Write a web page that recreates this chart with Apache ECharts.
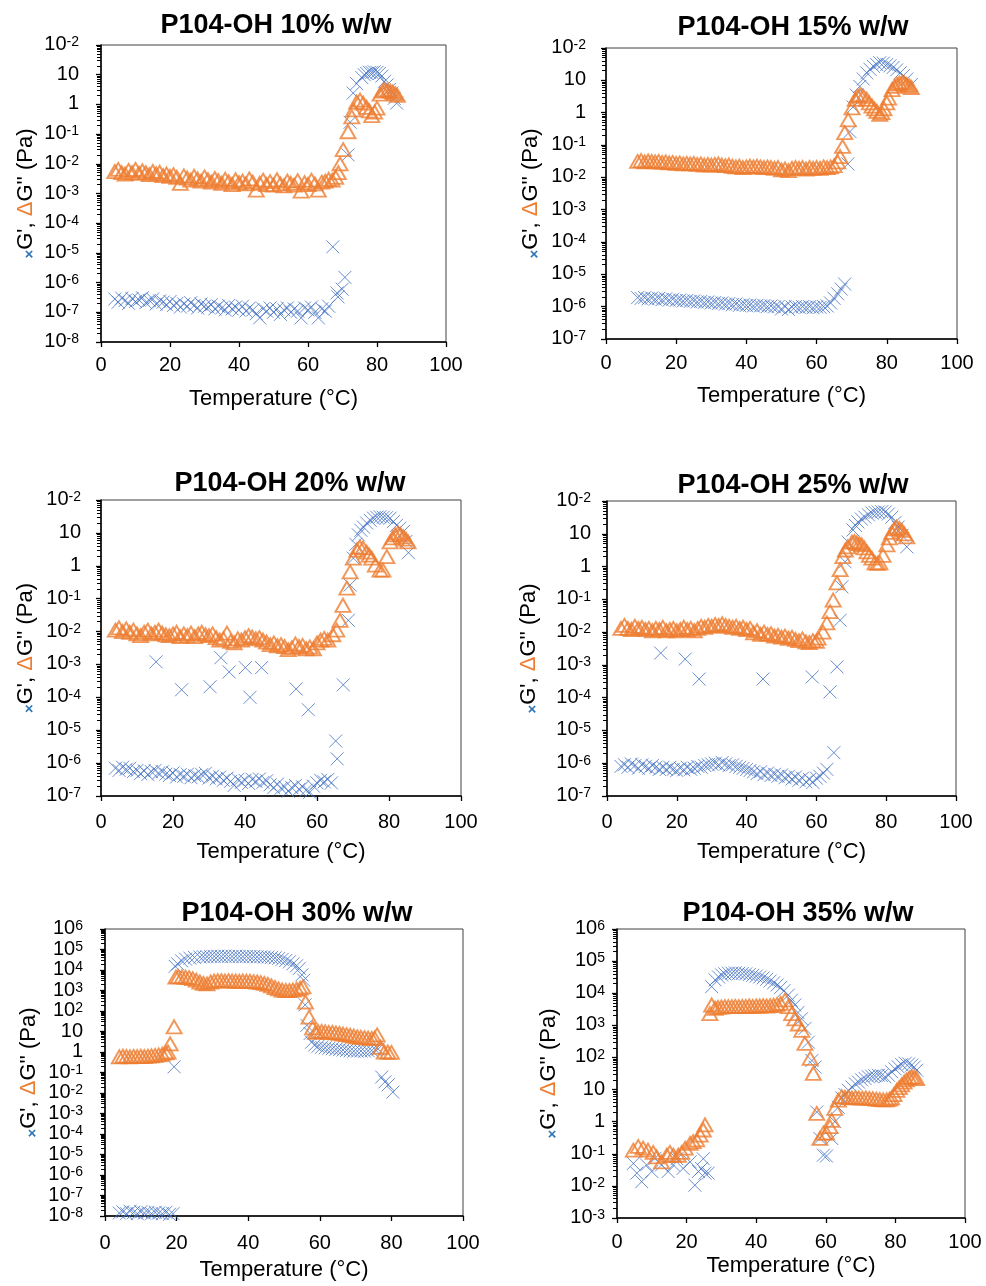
<!DOCTYPE html>
<html>
<head>
<meta charset="utf-8">
<script src="https://cdn.jsdelivr.net/npm/echarts@6/dist/echarts.min.js"></script>
<style>
html,body{margin:0;padding:0;background:#fff;}
#chart{width:986px;height:1286px;}
</style>
</head>
<body>
<div id="chart"></div>
<script>
// ---- Storage modulus G' and loss modulus G'' (Pa) vs temperature (°C) ----

// P104-OH 10% w/w
const gp10 = [[4,2.8e-7],[5,2.2e-7],[6,3.0e-7],[7,2.5e-7],[8,2.0e-7],[9,2.9e-7],[10,2.3e-7],[11,2.6e-7],[12,3.1e-7],[13,2.1e-7],[14,2.5e-7],[15,2.8e-7],[16,1.9e-7],[17,2.4e-7],[18,2.2e-7],[19,1.8e-7],[20,2.3e-7],[21,1.7e-7],[22,2.0e-7],[23,1.5e-7],[24,1.9e-7],[25,1.6e-7],[26,2.1e-7],[27,1.7e-7],[28,1.4e-7],[29,1.9e-7],[30,1.6e-7],[31,1.5e-7],[32,1.8e-7],[33,1.3e-7],[34,1.6e-7],[35,1.4e-7],[36,1.2e-7],[37,1.7e-7],[38,1.3e-7],[39,1.5e-7],[40,1.2e-7],[41,1.6e-7],[42,1.1e-7],[43,1.4e-7],[44,1.2e-7],[45,9e-8],[46,6.5e-8],[47,1.3e-7],[48,1.1e-7],[49,1.4e-7],[50,1.0e-7],[51,1.3e-7],[52,8.5e-8],[53,1.2e-7],[54,1.4e-7],[55,1.0e-7],[56,1.3e-7],[57,1.1e-7],[58,6.5e-8],[59,1.4e-7],[60,1.2e-7],[61,1.5e-7],[62,1.0e-7],[63,6.5e-8],[64,1.3e-7],[65,1.1e-7],[66,1.6e-7],[67.2,1.6e-5],[68.4,4.5e-7],[68.7,3.3e-7],[69.9,6e-7],[70.7,1.5e-6],[71.6,0.02],[72.2,0.25],[73.1,2.4],[74.1,5],[75.6,8],[76.3,10],[77,11],[77.8,12],[78.5,12],[79.2,12.5],[80,12],[80.7,11],[81.4,9],[82.2,6],[82.9,4.5],[83.6,3.2],[84.3,2.4],[85,1.6],[85.7,1.1]];
const dg10 = [[4,5.5e-3],[5,6.5e-3],[6,5e-3],[7,4.5e-3],[8,6e-3],[9,5e-3],[10,6.5e-3],[11,4.8e-3],[12,5.8e-3],[13,5e-3],[14,4.3e-3],[15,5.5e-3],[16,4.6e-3],[17,5.2e-3],[18,4e-3],[19,4.5e-3],[20,3.8e-3],[21,4.3e-3],[22,3.5e-3],[23,2.2e-3],[24,3.9e-3],[25,3.3e-3],[26,2.8e-3],[27,3.8e-3],[28,3.1e-3],[29,2.6e-3],[30,3.6e-3],[31,2.9e-3],[32,2.4e-3],[33,3.2e-3],[34,2.7e-3],[35,2.2e-3],[36,3.0e-3],[37,2.5e-3],[38,2.0e-3],[39,2.9e-3],[40,2.3e-3],[41,2.6e-3],[42,2.1e-3],[43,3.1e-3],[44,2.4e-3],[45,1.3e-3],[46,2.2e-3],[47,2.8e-3],[48,2.0e-3],[49,2.5e-3],[50,1.9e-3],[51,2.9e-3],[52,2.1e-3],[53,1.8e-3],[54,2.6e-3],[55,2.2e-3],[56,1.9e-3],[57,2.7e-3],[58,1.2e-3],[59,2.3e-3],[60,2.0e-3],[61,2.8e-3],[62,2.1e-3],[63,1.3e-3],[64,2.4e-3],[65,2.6e-3],[66,3.0e-3],[67,2.8e-3],[68,3.5e-3],[68.8,5e-3],[69.3,0.01],[70.2,0.03],[71.6,0.12],[72.7,0.38],[73.2,0.65],[74.1,1.2],[75.1,1.4],[76,1.1],[77,0.8],[77.8,0.6],[78.5,0.42],[79.3,0.55],[80,0.75],[80.9,2.2],[81.6,2.8],[82.3,3.1],[83.2,3.0],[83.9,2.8],[84.6,2.6],[85.3,2.3],[85.9,2.0]];

// P104-OH 15% w/w
const gp15 = [[9,1.9e-6],[10,1.8e-6],[11,1.9e-6],[12,1.75e-6],[13,1.85e-6],[14,1.7e-6],[15,1.8e-6],[16,1.65e-6],[17,1.75e-6],[18,1.6e-6],[19,1.7e-6],[20,1.55e-6],[21,1.6e-6],[22,1.5e-6],[23,1.55e-6],[24,1.45e-6],[25,1.5e-6],[26,1.4e-6],[27,1.45e-6],[28,1.35e-6],[29,1.4e-6],[30,1.3e-6],[31,1.35e-6],[32,1.25e-6],[33,1.3e-6],[34,1.2e-6],[35,1.25e-6],[36,1.15e-6],[37,1.2e-6],[38,1.1e-6],[39,1.15e-6],[40,1.1e-6],[41,1.12e-6],[42,1.05e-6],[43,1.1e-6],[44,1.05e-6],[45,1.08e-6],[46,1.0e-6],[47,1.05e-6],[48,9.8e-7],[49,1.0e-6],[50,8.5e-7],[51,1.0e-6],[52,8.2e-7],[53,9.7e-7],[54,1.0e-6],[55,9.5e-7],[56,1.0e-6],[57,9.5e-7],[58,1.0e-6],[59,9.3e-7],[60,9.8e-7],[61,9.5e-7],[62,1.0e-6],[63,1.05e-6],[64,1.3e-6],[65,1.8e-6],[66,2.5e-6],[67,3.5e-6],[68,5e-6],[68.9,0.026],[69.5,0.26],[70.4,1.5],[71.3,3.5],[72.3,6.5],[73.3,11],[74.3,17],[75.2,22],[76.2,27],[77.1,31],[78,35],[79,34],[80,31],[80.9,28],[81.8,25],[82.8,21],[83.8,17],[84.7,14],[85.7,11],[87,7.4]];
const dg15 = [[9,0.031],[10,0.033],[11,0.03],[12,0.032],[13,0.031],[14,0.03],[15,0.031],[16,0.029],[17,0.03],[18,0.028],[19,0.029],[20,0.027],[21,0.028],[22,0.026],[23,0.027],[24,0.026],[25,0.027],[26,0.025],[27,0.026],[28,0.024],[29,0.025],[30,0.024],[31,0.025],[32,0.026],[33,0.024],[34,0.023],[35,0.024],[36,0.022],[37,0.021],[38,0.022],[39,0.02],[40,0.021],[41,0.022],[42,0.021],[43,0.022],[44,0.021],[45,0.02],[46,0.021],[47,0.02],[48,0.019],[49,0.02],[50,0.017],[51,0.018],[52,0.016],[53,0.019],[54,0.02],[55,0.019],[56,0.02],[57,0.018],[58,0.02],[59,0.019],[60,0.02],[61,0.019],[62,0.021],[63,0.02],[64,0.021],[65,0.023],[66,0.03],[66.7,0.044],[67.4,0.09],[68,0.24],[69,0.6],[70.1,1.4],[71,2.6],[71.7,3.3],[72.4,3.6],[73.3,3.2],[74.3,2.6],[75,2.0],[75.8,1.6],[76.5,1.3],[77.2,1.1],[78,0.88],[78.6,1.0],[79.2,1.3],[80,2.0],[80.5,2.8],[81.5,5.2],[82.2,6.5],[82.9,7.6],[83.6,8.3],[84.4,8.6],[85,8.2],[85.7,7.4],[86.4,6.8],[87,6]];

// P104-OH 20% w/w
const gp20 = [[4,7e-7],[5,6e-7],[6,7.5e-7],[7,6.5e-7],[8,7e-7],[9,5.5e-7],[10,6e-7],[11,4.8e-7],[12,5.8e-7],[13,4.5e-7],[14,5.5e-7],[15,6e-7],[15.3,1.2e-3],[16,5e-7],[17,5.5e-7],[18,4.6e-7],[19,4.2e-7],[20,5e-7],[21,3.8e-7],[22,4.5e-7],[22.4,1.7e-4],[23,4e-7],[24,4.6e-7],[25,3.6e-7],[26,4.2e-7],[27,3.8e-7],[28,4.5e-7],[29,4.9e-7],[30,3.5e-7],[30.3,2.1e-4],[31,4e-7],[32,3.3e-7],[33,3.8e-7],[33.3,1.6e-3],[34,3e-7],[35,3.5e-7],[35.6,5.9e-4],[36,2.8e-7],[37,2.1e-7],[38,3.2e-7],[39,2.6e-7],[40,3e-7],[40.1,8e-4],[41,2.4e-7],[41.4,1e-4],[42,3.2e-7],[43,2.8e-7],[44,3.3e-7],[44.6,8e-4],[45,2.6e-7],[46,2.9e-7],[47,2.2e-7],[48,1.8e-7],[49,2.3e-7],[50,1.7e-7],[51,1.9e-7],[52,1.4e-7],[53,1.8e-7],[54,2.1e-7],[54.2,1.8e-4],[55,1.6e-7],[56,1.9e-7],[57,1.5e-7],[57.6,4.2e-5],[58,1.3e-7],[59,2e-7],[60,2.5e-7],[61,3e-7],[62,2.7e-7],[63,3.2e-7],[64,2.5e-7],[65.2,4.7e-6],[65.6,1.35e-6],[67.3,2.4e-4],[68.7,0.022],[69.2,0.26],[70.1,1.7],[70.8,4.5],[71.5,8.7],[72.2,12],[72.9,15],[73.8,20],[74.8,24],[75.7,28],[76.6,30],[77.5,31],[78.4,30],[79.3,29],[80.3,28],[81.2,22],[82.1,17],[83,14],[84,11],[84.7,5.5],[85.4,2.5]];
const dg20 = [[4,0.011],[5,0.013],[6,0.01],[7,0.012],[8,0.0095],[9,0.011],[10,0.0085],[11,0.0075],[12,0.0095],[13,0.011],[14,0.0085],[15,0.0095],[16,0.011],[17,0.009],[18,0.008],[19,0.0075],[20,0.0085],[21,0.0095],[22,0.007],[23,0.0085],[24,0.0075],[25,0.009],[26,0.007],[27,0.0085],[28,0.0095],[29,0.008],[30,0.0075],[31,0.0085],[32,0.0065],[33,0.0055],[34,0.006],[35,0.009],[36,0.005],[37,0.0045],[38,0.006],[39,0.0055],[40,0.0065],[41,0.0075],[42,0.0068],[43,0.006],[44,0.0065],[45,0.0055],[46,0.0048],[47,0.004],[48,0.0045],[49,0.0037],[50,0.004],[51,0.0035],[52,0.0028],[53,0.0032],[54,0.0042],[55,0.0035],[56,0.0038],[57,0.003],[58,0.0034],[59,0.003],[60,0.0045],[61,0.0055],[62,0.0062],[63,0.0055],[64.4,0.008],[65.5,0.011],[66.4,0.022],[67.2,0.063],[68.3,0.21],[69.2,0.65],[70.1,1.7],[71.1,3],[71.9,3.7],[72.8,3.5],[73.8,2.6],[74.5,2.1],[75.2,1.7],[76.2,1.05],[77.5,0.74],[78.3,0.74],[79.4,1.9],[80.3,5.3],[81,7],[81.7,8.7],[82.5,10],[83.2,9],[84,7.6],[84.7,6.5],[85.3,5.3]];

// P104-OH 25% w/w
const gp25 = [[4,8e-7],[5,9e-7],[6,7.5e-7],[7,9.5e-7],[8,8.5e-7],[9,7e-7],[10,9e-7],[11,8e-7],[12,7e-7],[13,8.5e-7],[14,7.5e-7],[15,6.5e-7],[15.4,2.3e-3],[16,7.5e-7],[17,6.5e-7],[18,7.5e-7],[19,6.5e-7],[20,6e-7],[21,7e-7],[22,6.3e-7],[22.4,1.5e-3],[23,7.5e-7],[24,6.5e-7],[25,7e-7],[26,8e-7],[26.4,3.7e-4],[27,7.5e-7],[28,8.5e-7],[29,9e-7],[30,9.5e-7],[31,1.0e-6],[32,9e-7],[33,1.05e-6],[34,9.5e-7],[35,8.5e-7],[36,9e-7],[37,8e-7],[38,7.5e-7],[39,7e-7],[40,6.5e-7],[41,6e-7],[42,5.5e-7],[43,4.8e-7],[44,5.5e-7],[44.7,3.7e-4],[45,4.5e-7],[46,5e-7],[47,4.2e-7],[48,4.6e-7],[49,4e-7],[50,4.4e-7],[51,3.6e-7],[52,4e-7],[53,3.3e-7],[54,3.8e-7],[55,3e-7],[56,3.5e-7],[57,2.7e-7],[58,3.2e-7],[58.8,4.3e-4],[59,2.6e-7],[60,3.5e-7],[61,4e-7],[62,5e-7],[63,6.5e-7],[63.9,1.5e-4],[65,2.1e-6],[65.9,8.7e-4],[66.8,0.023],[67.3,0.24],[68.2,1.4],[69.1,5.6],[70.5,13],[71.2,18],[71.9,23],[72.9,28],[73.9,32],[74.9,38],[75.9,43],[76.8,45],[77.7,46],[78.7,47],[79.7,46],[80.6,40],[81.6,32],[82.5,22],[83.4,16],[84.5,9],[85.9,4]];
const dg25 = [[4,0.013],[5,0.016],[6,0.013],[7,0.012],[8,0.015],[9,0.013],[10,0.014],[11,0.012],[12,0.013],[13,0.011],[14,0.013],[15,0.012],[16,0.014],[17,0.011],[18,0.012],[19,0.013],[20,0.011],[21,0.012],[22,0.014],[23,0.012],[24,0.013],[25,0.011],[26,0.013],[27,0.015],[28,0.014],[29,0.016],[30,0.015],[31,0.017],[32,0.016],[33,0.018],[34,0.016],[35,0.015],[36,0.014],[37,0.015],[38,0.013],[39,0.014],[40,0.012],[41,0.013],[42,0.0095],[43,0.011],[44,0.0085],[45,0.01],[46,0.0085],[47,0.009],[48,0.0075],[49,0.008],[50,0.007],[51,0.0075],[52,0.0065],[53,0.007],[54,0.006],[55,0.0055],[56,0.0062],[57,0.005],[58,0.0048],[59,0.0055],[60,0.0052],[60.5,0.0066],[61.9,0.01],[63,0.019],[63.9,0.042],[64.8,0.095],[65.9,0.32],[66.8,0.8],[67.6,2],[68.3,3.2],[69,4],[70.2,5.6],[70.9,5.8],[71.6,5.3],[72.3,5],[73,4.6],[73.7,3.7],[74.5,2.8],[75.2,2.2],[75.9,1.8],[76.8,1.3],[77.5,1.25],[78.2,1.3],[79.1,2.2],[80.2,4.6],[80.9,7.5],[81.6,11],[82.3,14],[83,16],[83.8,14.5],[84.5,12.6],[85.2,10],[85.9,8]];

// P104-OH 30% w/w
const gp30 = [[4,1.4e-8],[5,1.6e-8],[6,1.3e-8],[7,1.7e-8],[8,1.5e-8],[9,1.3e-8],[10,1.6e-8],[11,1.4e-8],[12,1.5e-8],[13,1.3e-8],[14,1.5e-8],[15,1.4e-8],[16,1.3e-8],[17,1.5e-8],[18,1.2e-8],[19,1.3e-8],[19.3,0.19],[19.6,1.5e4],[20.3,2e4],[21.4,2.8e4],[22.5,3.4e4],[23.7,3.8e4],[25,4.1e4],[26.5,4.3e4],[27.5,4.4e4],[28.5,4.5e4],[29.5,4.6e4],[30.5,4.6e4],[31.5,4.7e4],[32.5,4.6e4],[33.5,4.7e4],[34.5,4.6e4],[35.5,4.6e4],[36.5,4.7e4],[37.5,4.6e4],[38.5,4.5e4],[39.5,4.6e4],[40.5,4.5e4],[41.5,4.5e4],[42.5,4.4e4],[43.5,4.4e4],[44.5,4.3e4],[45.5,4.3e4],[46.5,4.1e4],[47.5,3.9e4],[48.5,3.6e4],[49.5,3.3e4],[50.5,2.9e4],[51.5,2.5e4],[52.5,2.0e4],[53.5,1.6e4],[54.3,1.2e4],[55,5.8e3],[55.5,3.2e3],[55.9,200],[56.4,20],[57.3,8],[57.7,3],[58.6,2.2],[59.5,1.9],[60.5,1.7],[61.5,1.6],[62.5,1.5],[63.5,1.45],[64.5,1.35],[65.5,1.3],[66.5,1.25],[67.5,1.2],[68.5,1.15],[69.5,1.1],[70.5,1.1],[71.5,1.12],[72.5,1.1],[73.5,1.15],[74.5,1.2],[75.5,1.3],[76.3,1.4],[77.3,0.06],[78.2,0.035],[79.1,0.025],[80.4,0.011]];
const dg30 = [[4,0.58],[5,0.62],[6,0.6],[7,0.58],[8,0.61],[9,0.6],[10,0.62],[11,0.6],[12,0.63],[13,0.65],[14,0.68],[15,0.72],[16,0.78],[17,0.9],[17.6,1.0],[18.2,2.5],[19.3,17],[19.8,4.5e3],[20.5,4.8e3],[21.5,4.6e3],[22.5,4.4e3],[23.5,4.2e3],[24.5,3.8e3],[25.5,3.2e3],[26.5,2.6e3],[27.5,2.2e3],[28.5,2.1e3],[29.5,2.6e3],[30.5,2.9e3],[31.5,3.0e3],[32.5,3.0e3],[33.5,2.9e3],[34.5,3.0e3],[35.5,2.9e3],[36.5,2.9e3],[37.5,2.8e3],[38.5,2.9e3],[39.5,2.8e3],[40.5,2.8e3],[41.5,2.7e3],[42.5,2.6e3],[43.5,2.4e3],[44.5,2.2e3],[45.5,2.0e3],[46.5,1.7e3],[47.5,1.4e3],[48.5,1.2e3],[49.5,1.05e3],[50.5,1.0e3],[51.5,1.0e3],[52.5,1.05e3],[53.5,1.15e3],[54.5,1.3e3],[55.3,1.5e3],[56,275],[57,50],[58,15],[58.8,9],[59.5,10],[60.5,10],[61.5,9.5],[62.5,9],[63.5,9],[64.5,8.5],[65.5,8],[66.5,7.5],[67.5,7],[68.5,6.5],[69.5,6],[70.5,5.5],[71.5,5.2],[72.5,5],[73.5,4.8],[74.5,4.6],[75.3,4.7],[76,6.8],[77,1.7],[78,1.0],[79,1.0],[80,0.95]];

// P104-OH 35% w/w
const gp35 = [[4.7,0.05],[5.7,0.025],[7.1,0.0135],[8.5,0.045],[10,0.028],[10.9,0.072],[12.8,0.045],[14.7,0.028],[16.2,0.045],[17.2,0.07],[19,0.035],[21,0.056],[22.4,0.0105],[23.4,0.028],[24.3,0.035],[24.8,0.07],[25.3,0.025],[26.2,0.025],[27.2,1.6e4],[28.2,2.6e4],[29.2,3.2e4],[30.1,3.7e4],[31,4e4],[32,4.2e4],[33,4.2e4],[34,4.3e4],[35,4.2e4],[36,4.1e4],[37,4e4],[38,3.8e4],[39,3.6e4],[40,3.4e4],[41,3.2e4],[42,3e4],[43,2.7e4],[44,2.4e4],[45,2.1e4],[46,1.8e4],[47,1.5e4],[48,1.2e4],[49.2,8.7e3],[50.1,6e3],[51.1,4.3e3],[52,2.5e3],[53,1.6e3],[54,800],[55,300],[56,80],[56.9,50],[57.4,2],[58.3,0.3],[59.3,0.09],[60.2,0.085],[61.7,0.3],[62.6,1.0],[63.6,2.8],[64.6,5.5],[65.5,7],[66.5,9.5],[67.5,12],[68.5,15],[69.4,17],[70.3,20],[71.3,22],[72.2,25],[73.2,26],[74.1,27],[75.1,28],[76,27],[77,25],[78,28],[78.9,36],[79.9,44],[80.8,51],[81.8,60],[82.8,66],[83.8,63],[84.7,58],[85.4,50],[86.1,40]];
const dg35 = [[4.7,0.13],[6.1,0.17],[7.5,0.15],[8.9,0.13],[10.4,0.11],[11.4,0.08],[12.8,0.056],[14.3,0.09],[15.2,0.11],[16.2,0.09],[17.6,0.09],[18.6,0.11],[19.6,0.15],[21,0.21],[21.9,0.24],[22.9,0.27],[23.9,0.38],[24.8,0.55],[25.3,0.8],[26.7,2.3e3],[27.2,4.3e3],[28.2,3.4e3],[29,3.6e3],[30,3.7e3],[31,3.8e3],[32,3.8e3],[33,3.8e3],[34,3.9e3],[35,3.8e3],[36,3.9e3],[37,3.9e3],[38,4.0e3],[39,3.9e3],[40,4.0e3],[41,4.0e3],[42,4.1e3],[43,4.0e3],[44,4.1e3],[45,4.2e3],[46,4.5e3],[47,4.8e3],[48.3,6.2e3],[49.2,3.8e3],[50.2,2.3e3],[51.1,1.6e3],[52.1,1.1e3],[53.1,700],[54,275],[55.5,93],[56.4,32],[57.4,1.8],[58.3,0.3],[59.3,0.44],[60.2,0.44],[61.2,0.7],[61.7,1.1],[62.6,2.6],[63.6,4.7],[64.6,6],[65.5,5.8],[66.5,5.6],[67.5,5.5],[68.5,5.6],[69.5,5.5],[70.5,5.4],[71.5,5.5],[72.5,5.3],[73.5,5.2],[74.5,5.0],[75.5,4.9],[76.5,4.8],[77.5,4.8],[78.3,5.0],[78.9,5.5],[79.6,7],[80.4,9.5],[81.1,11.5],[81.8,14],[82.5,17],[83.2,20],[84,23],[84.7,25],[85.4,24],[86.1,22]];

// Tick labels for the logarithmic value axes, lowest decade first
const yTicks10 = ['10^-8','10^-7','10^-6','10^-5','10^-4','10^-3','10^-2','10^-1','1','10','10^-2'];
const yTicks15 = ['10^-7','10^-6','10^-5','10^-4','10^-3','10^-2','10^-1','1','10','10^-2'];
const yTicks30 = ['10^-8','10^-7','10^-6','10^-5','10^-4','10^-3','10^-2','10^-1','1','10','10^2','10^3','10^4','10^5','10^6'];
const yTicks35 = ['10^-3','10^-2','10^-1','1','10','10^2','10^3','10^4','10^5','10^6'];
const xTicks = [0, 20, 40, 60, 80, 100];

const titles = ['P104-OH 10% w/w','P104-OH 15% w/w','P104-OH 20% w/w','P104-OH 25% w/w','P104-OH 30% w/w','P104-OH 35% w/w'];

// ---- layout of the six panels ----
const panels = [
  {gp: gp10, dg: dg10, ticks: yTicks10, minExp: -8, maxExp: 2, box: [101, 45, 345, 297], title: [276, 12], xMargin: 13, xGap: 46, yGap: 64, yMargin: 22},
  {gp: gp15, dg: dg15, ticks: yTicks15, minExp: -7, maxExp: 2, box: [606, 48, 351, 291], title: [793, 14], xMargin: 14, xGap: 46, yGap: 64, yMargin: 20},
  {gp: gp20, dg: dg20, ticks: yTicks15, minExp: -7, maxExp: 2, box: [101, 500, 360, 296], title: [290, 470], xMargin: 16, xGap: 45, yGap: 64, yMargin: 20},
  {gp: gp25, dg: dg25, ticks: yTicks15, minExp: -7, maxExp: 2, box: [607, 501, 349, 295], title: [793, 472], xMargin: 16, xGap: 45, yGap: 67, yMargin: 16},
  {gp: gp30, dg: dg30, ticks: yTicks30, minExp: -8, maxExp: 6, box: [105, 929, 358, 287], title: [297, 900], xMargin: 17, xGap: 43, yGap: 65, yMargin: 22},
  {gp: gp35, dg: dg35, ticks: yTicks35, minExp: -3, maxExp: 6, box: [617, 929, 348, 289], title: [798, 900], xMargin: 14, xGap: 37, yGap: 57, yMargin: 12}
];

const BLUE = '#4472C4';
const ORANGE = '#ED7D31';
const FONT = 'Liberation Sans, Arial, sans-serif';

function richLabel(s) {
  const k = s.indexOf('^');
  if (k < 0) return '{b|' + s + '}';
  return '{b|' + s.slice(0, k) + '}{s|' + s.slice(k + 1) + '}';
}

const grid = [], xAxis = [], yAxis = [], series = [], title = [];

panels.forEach((p, i) => {
  const [l, t, w, h] = p.box;
  grid.push({left: l, top: t, width: w, height: h, show: true, borderColor: '#404040', borderWidth: 1, backgroundColor: 'transparent', containLabel: false, outerBoundsMode: 'none'});
  title.push({
    text: titles[i], left: p.title[0], top: p.title[1], textAlign: 'center', padding: 0,
    textStyle: {fontFamily: FONT, fontSize: 27, fontWeight: 'bold', color: '#000'}
  });
  xAxis.push({
    type: 'value', gridIndex: i, min: xTicks[0], max: xTicks[xTicks.length - 1], interval: xTicks[1] - xTicks[0],
    axisLine: {show: true, onZero: false, lineStyle: {color: '#000', width: 1.5}},
    axisTick: {show: true, length: 5, lineStyle: {color: '#000', width: 1.3}},
    axisLabel: {fontFamily: FONT, fontSize: 20, color: '#000', margin: p.xMargin, showMinLabel: true, showMaxLabel: true},
    splitLine: {show: false},
    name: 'Temperature (°C)', nameLocation: 'middle', nameGap: p.xGap,
    nameTextStyle: {fontFamily: FONT, fontSize: 22, color: '#000'}
  });
  yAxis.push({
    type: 'log', logBase: 10, gridIndex: i, min: Math.pow(10, p.minExp), max: Math.pow(10, p.maxExp), interval: 1,
    axisLine: {show: true, onZero: false, lineStyle: {color: '#000', width: 1.5}},
    axisTick: {show: true, length: 5, lineStyle: {color: '#000', width: 1.3}},
    minorTick: {show: true, splitNumber: 9, length: 4, lineStyle: {color: '#000', width: 1}},
    splitLine: {show: false},
    minorSplitLine: {show: false},
    axisLabel: {
      margin: p.yMargin,
      showMinLabel: true, showMaxLabel: true, hideOverlap: false,
      formatter: (v) => {
        const e = Math.round(Math.log10(v));
        const s = p.ticks[e - p.minExp];
        return s === undefined ? '' : richLabel(s);
      },
      rich: {
        // the exponent box is shorter than its glyphs, so it rises above the base
        b: {fontFamily: FONT, fontSize: 20, color: '#000', lineHeight: 19, verticalAlign: 'bottom'},
        s: {fontFamily: FONT, fontSize: 14, color: '#000', lineHeight: 5, verticalAlign: 'top'}
      }
    },
    name: "{x|×}{t|G', }{d|Δ}{t|G'' (Pa)}",
    nameLocation: 'middle', nameRotate: 90, nameGap: p.yGap,
    nameTextStyle: {
      rich: {
        x: {fontFamily: FONT, fontSize: 15, fontWeight: 'bold', color: '#2E75B6', verticalAlign: 'bottom', lineHeight: 24},
        t: {fontFamily: FONT, fontSize: 22, color: '#000', verticalAlign: 'bottom', lineHeight: 24},
        d: {fontFamily: FONT, fontSize: 22, color: ORANGE, verticalAlign: 'bottom', lineHeight: 24}
      }
    }
  });
  series.push({
    type: 'scatter', name: "G'", xAxisIndex: i, yAxisIndex: i, data: p.gp,
    symbol: 'path://M0,0L10,10M0,10L10,0', symbolSize: 13,
    itemStyle: {color: 'rgba(0,0,0,0)', borderColor: BLUE, borderWidth: 1},
    silent: true, animation: false
  });
  series.push({
    type: 'scatter', name: "G''", xAxisIndex: i, yAxisIndex: i, data: p.dg,
    symbol: 'triangle', symbolSize: [15, 13],
    itemStyle: {color: 'rgba(0,0,0,0)', borderColor: ORANGE, borderWidth: 1.9},
    silent: true, animation: false
  });
});

const chart = echarts.init(document.getElementById('chart'), null, {renderer: 'canvas', width: 986, height: 1286});
chart.setOption({backgroundColor: '#fff', animation: false, title, grid, xAxis, yAxis, series});
</script>
</body>
</html>
